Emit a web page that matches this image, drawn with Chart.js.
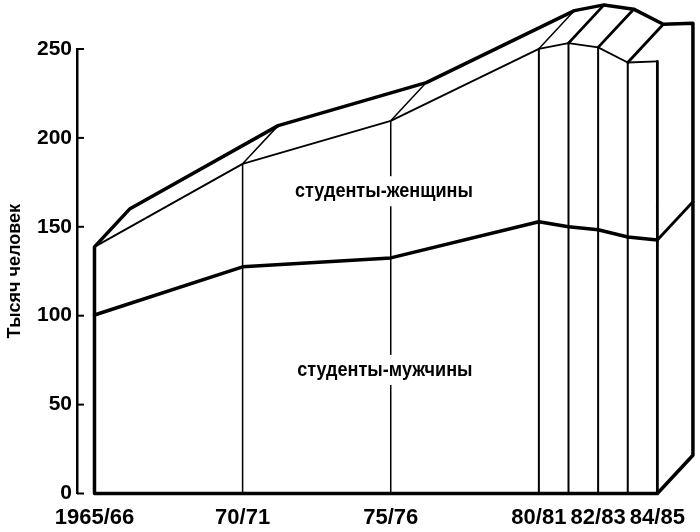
<!DOCTYPE html>
<html>
<head>
<meta charset="utf-8">
<script src="https://cdn.jsdelivr.net/npm/chart.js@4"></script>
<style>
  body { margin: 0; background: #fff; }
  #wrap { width: 700px; height: 532px; }
</style>
</head>
<body>
<div id="wrap"><canvas id="chart" width="700" height="532"></canvas></div>
<script>
const years = [1965, 1970, 1975, 1980, 1981, 1982, 1983, 1984];
const totalStudents = [138.7, 185.4, 209.6, 250.1, 253.3, 250.9, 242.4, 243];
const maleStudents = [100.4, 127.5, 132.5, 152.8, 150, 148.3, 144.3, 142.6];
const xTickYears = [1965, 1970, 1975, 1980, 1982, 1984];
const xTickLabels = ["1965/66", "70/71", "75/76", "80/81", "82/83", "84/85"];
const yTicks = [0, 50, 100, 150, 200, 250];
const areaLabels = ["студенты-женщины", "студенты-мужчины"];

// depth of the 3D block, in axis units
const DEPTH_X = 1.2;
const DEPTH_Y = 21.5;

const SANS = "'Liberation Sans', Arial, sans-serif";
const last = years.length - 1;
const pt = (x, y) => ({ x, y });
const back = (x, y) => ({ x: x + DEPTH_X, y: y + DEPTH_Y });

// pairs of points -> one dataset, broken with gaps
function segments(pairs) {
  const out = [];
  pairs.forEach(([a, b]) => out.push(a, b, { x: b.x, y: null }));
  return out;
}

// outer silhouette of the block
const outline = [
  pt(years[0], 0),
  pt(years[0], totalStudents[0]),
  ...years.map((x, i) => back(x, totalStudents[i])),
  back(years[last], 0),
  pt(years[last], 0),
  pt(years[0], 0),
];

const thinVerticals = segments([1, 2].map(i => [pt(years[i], 0), pt(years[i], totalStudents[i])]));
const verticals = segments([3, 4, 5, 6].map(i => [pt(years[i], 0), pt(years[i], totalStudents[i])]));
const thinDepth = segments([1, 2, 3].map(i => [pt(years[i], totalStudents[i]), back(years[i], totalStudents[i])]));
const thickEdges = segments([
  ...[4, 5, 6].map(i => [pt(years[i], totalStudents[i]), back(years[i], totalStudents[i])]),
  [pt(years[last], maleStudents[last]), back(years[last], maleStudents[last])],
  [pt(years[last], 0), pt(years[last], totalStudents[last])],
]);

function line(data, width) {
  return {
    data,
    showLine: true,
    borderColor: "#000",
    borderWidth: width,
    pointRadius: 0,
    borderJoinStyle: "round",
    borderCapStyle: "round",
    spanGaps: false,
    clip: false,
  };
}

const areaLabelPlugin = {
  id: "areaLabels",
  afterDatasetsDraw(chart, args, opts) {
    const { ctx, scales: { x, y } } = chart;
    ctx.save();
    ctx.font = opts.font;
    ctx.textAlign = "center";
    ctx.textBaseline = "middle";
    opts.items.forEach(item => {
      const px = x.getPixelForValue(item.x);
      const py = y.getPixelForValue(item.y);
      const w = ctx.measureText(item.text).width * opts.squeeze;
      ctx.fillStyle = "#fff";
      ctx.fillRect(px - w / 2 - 4, py - 15, w + 8, 30);
      ctx.fillStyle = "#000";
      ctx.save();
      ctx.translate(px, py);
      ctx.scale(opts.squeeze, 1);
      ctx.fillText(item.text, 0, 0);
      ctx.restore();
    });
    ctx.restore();
  },
};

// short tick marks pointing into the plot
const innerTicksPlugin = {
  id: "innerTicks",
  afterDraw(chart) {
    const { ctx, scales: { y } } = chart;
    ctx.save();
    ctx.strokeStyle = "#000";
    ctx.lineWidth = 2;
    y.ticks.forEach(t => {
      const py = y.getPixelForValue(t.value);
      ctx.beginPath();
      ctx.moveTo(y.right, py);
      ctx.lineTo(y.right + 7, py);
      ctx.stroke();
    });
    ctx.restore();
  },
};

new Chart(document.getElementById("chart"), {
  type: "scatter",
  data: {
    datasets: [
      line(thinVerticals, 1.5),
      line(verticals, 2),
      line(thinDepth, 1.5),
      line(thickEdges, 2.8),
      line(years.map((x, i) => pt(x, totalStudents[i])), 1.8),
      line(years.map((x, i) => pt(x, maleStudents[i])), 3.5),
      line(outline, 3.5),
    ],
  },
  options: {
    responsive: false,
    animation: false,
    layout: { padding: { top: 49, right: 5, bottom: 0, left: 0 } },
    plugins: {
      legend: { display: false },
      tooltip: { enabled: false },
      areaLabels: {
        font: "bold 21px " + SANS,
        squeeze: 0.86,
        items: [
          { text: areaLabels[0], x: 1974.77, y: 170 },
          { text: areaLabels[1], x: 1974.8, y: 69.5 },
        ],
      },
    },
    scales: {
      x: {
        type: "linear",
        min: 1964.41,
        max: 1985.27,
        grid: { display: false },
        border: { display: false },
        afterBuildTicks: s => { s.ticks = xTickYears.map(v => ({ value: v })); },
        afterFit: s => { s.height = 38.5; },
        ticks: {
          autoSkip: false,
          maxRotation: 0,
          padding: 3,
          color: "#000",
          font: { family: SANS, size: 22, weight: "bold" },
          callback: v => xTickLabels[xTickYears.indexOf(v)],
        },
      },
      y: {
        min: 0,
        max: 250,
        grid: { drawOnChartArea: false, drawTicks: false },
        border: { display: true, color: "#000", width: 2.5 },
        afterBuildTicks: s => { s.ticks = yTicks.map(v => ({ value: v })); },
        afterFit: s => { s.width = 77; },
        ticks: {
          padding: 5,
          color: "#000",
          font: { family: SANS, size: 21, weight: "bold" },
        },
        title: {
          display: true,
          text: "Тысяч человек",
          color: "#000",
          padding: { top: 4, bottom: 0 },
          font: { family: SANS, size: 18, weight: "bold" },
        },
      },
    },
  },
  plugins: [areaLabelPlugin, innerTicksPlugin],
});
</script>
</body>
</html>
